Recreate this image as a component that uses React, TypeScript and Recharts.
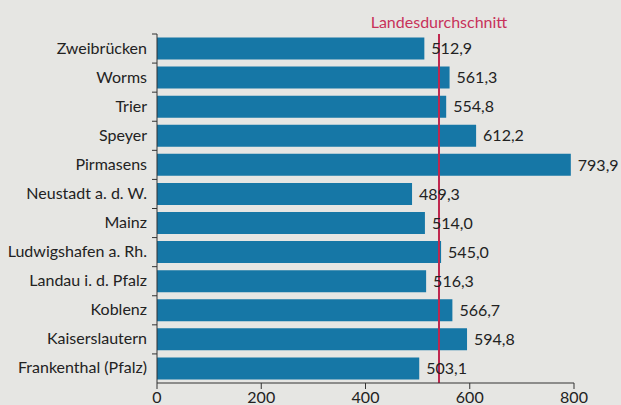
import { BarChart, Bar, XAxis, YAxis, ReferenceLine, LabelList } from "recharts";

const cities = [
  "Zweibrücken",
  "Worms",
  "Trier",
  "Speyer",
  "Pirmasens",
  "Neustadt a. d. W.",
  "Mainz",
  "Ludwigshafen a. Rh.",
  "Landau i. d. Pfalz",
  "Koblenz",
  "Kaiserslautern",
  "Frankenthal (Pfalz)",
];
const values = [512.9, 561.3, 554.8, 612.2, 793.9, 489.3, 514.0, 545.0, 516.3, 566.7, 594.8, 503.1];
const xTicks = [0, 200, 400, 600, 800];
const average = 541;

const data = cities.map((city, i) => ({ city, value: values[i] }));

const W = 621;
const H = 405;
const TOP = 34;
const BOTTOM = 22;
const plotH = H - TOP - BOTTOM;
const halfBand = plotH / cities.length / 2;
const FONT = "Lato, sans-serif";
const FS = 16;

const CityTick = (props: any) => {
  const { x, y, payload } = props;
  const axisX = x + 10;
  return (
    <g>
      <line x1={axisX - 5} x2={axisX} y1={y - halfBand} y2={y - halfBand} stroke="#333" strokeWidth={1} />
      <text x={x} y={y} dy={5} textAnchor="end" fill="#222" fontSize={FS} fontFamily={FONT}>
        {payload.value}
      </text>
    </g>
  );
};

const fmt = (v: any) => Number(v).toFixed(1).replace(".", ",");

export default function App() {
  return (
    <div style={{ position: "absolute", left: 0, top: 0, width: W, height: H, background: "#e6e6e3" }}>
      <BarChart
        width={W}
        height={H}
        data={data}
        layout="vertical"
        margin={{ top: TOP, right: 47, left: 0, bottom: 0 }}
        barCategoryGap="12%"
      >
        <XAxis
          type="number"
          domain={[0, 800]}
          ticks={xTicks}
          height={BOTTOM}
          stroke="#333"
          tickSize={6}
          tickMargin={3}
          tick={{ fill: "#222", fontSize: FS, fontFamily: FONT }}
          interval={0}
        />
        <YAxis
          type="category"
          dataKey="city"
          width={157}
          stroke="#333"
          tickLine={false}
          tickMargin={4}
          tick={<CityTick />}
          interval={0}
        />
        <Bar dataKey="value" fill="#1677a6" isAnimationActive={false}>
          <LabelList
            dataKey="value"
            position="right"
            offset={7}
            formatter={fmt}
            style={{ fill: "#222", fontSize: FS, fontFamily: FONT }}
          />
        </Bar>
        <ReferenceLine
          x={average}
          stroke="#c0284f"
          strokeWidth={2}
          label={{ value: "Landesdurchschnitt", position: "top", offset: 6, fill: "#c8325a", fontSize: FS, fontFamily: FONT }}
        />
      </BarChart>
    </div>
  );
}
